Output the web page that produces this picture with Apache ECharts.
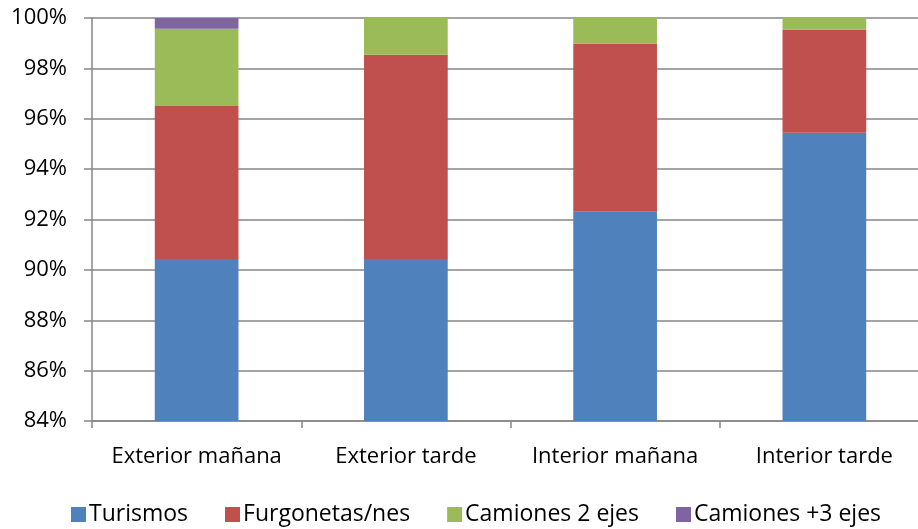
<!DOCTYPE html>
<html>
<head>
<meta charset="utf-8">
<script src="https://cdn.jsdelivr.net/npm/echarts@6/dist/echarts.min.js"></script>
<style>
  html, body { margin: 0; padding: 0; background: #fff; overflow: hidden; }
  #chart { width: 929px; height: 529px; }
</style>
</head>
<body>
<div id="chart"></div>
<script>
// datos (porcentaje acumulado por tipo de vehículo)
const categorias = ["Exterior mañana", "Exterior tarde", "Interior mañana", "Interior tarde"];
const turismos = [90.43, 90.43, 92.31, 95.44];
const furgonetas = [6.08, 8.11, 6.68, 4.10];
const camiones2 = [3.06, 1.46, 1.01, 0.46];
const camiones3 = [0.43, 0, 0, 0];

const fuente = "Open Sans";

function serie(nombre, datos, color) {
  return {
    name: nombre,
    type: "bar",
    stack: "total",
    barWidth: "40%",
    data: datos,
    itemStyle: { color: color },
  };
}

let myChart = echarts.init(document.getElementById("chart"));
myChart.setOption({
  animation: false,
  textStyle: { fontFamily: fuente },
  grid: {
    left: 92,
    right: 0,
    top: 18,
    bottom: 108,
  },
  legend: {
    top: 498,
    left: 66,
    itemWidth: 15,
    itemHeight: 15,
    itemGap: 37,
    icon: "rect",
    textStyle: { fontSize: 23, color: "#000", fontFamily: fuente, padding: [0, 0, 0, -2] },
    data: ["Turismos", "Furgonetas/nes", "Camiones 2 ejes", "Camiones +3 ejes"],
  },
  xAxis: {
    type: "category",
    data: categorias,
    axisLine: { lineStyle: { color: "#868686", width: 1.5 } },
    axisTick: { show: true, length: 7, lineStyle: { color: "#868686", width: 1.5 } },
    axisLabel: { fontSize: 22, color: "#000", margin: 25, interval: 0, hideOverlap: false, fontFamily: fuente },
  },
  yAxis: {
    type: "value",
    min: 84,
    max: 100,
    interval: 2,
    axisLine: { show: true, lineStyle: { color: "#868686", width: 1.5 } },
    axisTick: { show: true, length: 8, lineStyle: { color: "#868686", width: 1.5 } },
    splitLine: { lineStyle: { color: "#868686", width: 1.5 } },
    axisLabel: {
      fontSize: 22,
      color: "#000",
      margin: 25,
      fontFamily: fuente,
      formatter: "{value}%",
    },
  },
  series: [
    serie("Turismos", turismos, "#4F81BD"),
    serie("Furgonetas/nes", furgonetas, "#C0504D"),
    serie("Camiones 2 ejes", camiones2, "#9BBB59"),
    serie("Camiones +3 ejes", camiones3, "#8064A2"),
  ],
});
</script>
</body>
</html>
